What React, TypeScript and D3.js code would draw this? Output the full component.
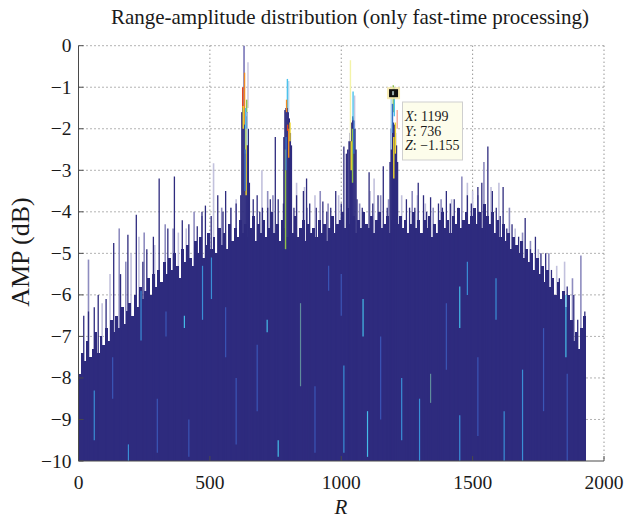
import React from 'react';
import * as d3 from 'd3';

// ---------- data ----------
const xTicks = [0, 500, 1000, 1500, 2000];
const yTicks = [0, -1, -2, -3, -4, -5, -6, -7, -8, -9, -10];
const titleText = 'Range-amplitude distribution (only fast-time processing)';

// dense dark columns, one every 10 range bins starting at R = 0
const COL_STEP = 10;
const columnTop = [
  -7.9, -7.4, -7.6, -7.1, -7.5, -7.3, -6.9, -7.4, -7.0, -7.2,
  -6.8, -7.1, -6.6, -6.9, -6.5, -6.8, -6.3, -6.7, -6.4, -6.2,
  -6.5, -6.0, -6.3, -5.8, -6.1, -5.9, -5.6, -6.0, -5.5, -5.8,
  -5.4, -5.7, -5.2, -5.5, -5.1, -5.4, -5.0, -5.3, -5.6, -4.9,
  -5.2, -4.8, -5.1, -5.3, -4.7, -5.0, -4.6, -5.1, -4.8, -4.5,
  -4.9, -4.6, -5.0, -4.4, -4.8, -4.5, -4.9, -4.3, -4.7, -4.4,
  -4.6, -4.2, -4.5, -4.3, -4.6, -4.4, -4.1, -4.7, -4.3, -4.5,
  -4.2, -4.6, -4.4, -4.0, -4.5, -4.3, -4.7, -4.2, -4.4, -4.6,
  -4.3, -4.5, -4.1, -4.6, -4.4, -4.2, -4.7, -4.3, -4.5, -4.4,
  -4.6, -4.2, -4.5, -4.3, -4.7, -4.4, -4.1, -4.5, -4.3, -4.2,
  -4.0, -4.4, -3.9, -4.3, -4.1, -4.5, -4.2, -4.4, -4.0, -4.3,
  -4.4, -4.1, -4.5, -4.2, -4.0, -4.4, -4.3, -4.1, -4.5, -4.2,
  -3.9, -4.3, -4.1, -4.4, -4.2, -4.5, -4.3, -4.0, -4.4, -4.2,
  -4.5, -4.2, -4.4, -4.1, -4.6, -4.3, -4.5, -4.2, -4.0, -4.4,
  -4.2, -4.5, -4.1, -4.3, -3.9, -4.4, -4.2, -4.0, -4.3, -4.1,
  -3.9, -4.3, -4.0, -4.4, -3.8, -4.1, -4.3, -4.0, -4.5, -4.2,
  -4.6, -4.3, -4.7, -4.5, -4.9, -4.6, -4.8, -5.0, -4.7, -5.1,
  -4.9, -5.2, -5.0, -5.4, -5.1, -5.5, -5.3, -5.7, -5.4, -5.8,
  -5.6, -6.0, -5.7, -6.1, -5.9, -6.3, -6.0, -6.6, -7.1, -6.9,
  -7.3, -6.8, -6.5,
];

// thin dark spikes
const spikeR = [20, 38, 60, 75, 105, 134, 160, 188, 220, 245, 260, 285, 307, 340, 365, 395, 420, 452, 483, 505,
  530, 560, 580, 600, 665, 680, 700, 720, 749, 760, 830, 856, 868, 880, 930, 960, 979, 1010, 1080, 1106,
  1140, 1160, 1248, 1280, 1293, 1313, 1340, 1370, 1400, 1430, 1480, 1520, 1535, 1558, 1575, 1590, 1616, 1650, 1700, 1739,
  1760, 1778, 1800, 1830, 1860, 1885, 1900, 1927,
  470, 550, 690, 730, 780, 820, 905, 945, 1000, 1060, 1120, 1175, 1260, 1325, 1385, 1415, 1445, 1495, 1545, 1605,
  1630, 1675, 1720, 1745];
const spikeTop = [-6.5, -6.4, -6.3, -6.0, -6.1, -4.75, -5.5, -4.55, -4.07, -5.2, -4.9, -4.6, -3.2, -4.4, -3.15, -4.2, -4.3, -4.35, -3.85, -4.1,
  -3.6, -3.5, -3.9, -3.8, -3.7, -3.6, -3.9, -3.9, -2.2, -3.7, -3.6, -3.5, -3.2, -3.8, -3.75, -3.9, -3.5, -2.43, -3.9, -3.05,
  -3.6, -2.9, -3.7, -3.9, -3.3, -3.6, -3.65, -3.8, -3.5, -3.7, -3.6, -3.4, -3.3, -2.43, -3.5, -3.9, -3.4, -4.3, -4.15, -4.6,
  -5.0, -5.0, -5.4, -5.6, -5.8, -6.0, -6.6, -6.4,
  -4.0, -4.0, -4.0, -3.7, -3.8, -3.9, -3.9, -4.0, -3.8, -3.7, -3.8, -3.9, -3.9, -4.0, -3.9, -3.8, -3.9, -3.8, -3.9, -4.1,
  -4.4, -4.6, -4.9, -5.2];

// pale (lavender) spikes
const paleR = [38, 90, 155, 200, 250, 290, 330, 380, 440, 514, 545, 580, 640, 698, 740, 830, 870, 900, 950, 990,
  1070, 1125, 1180, 1230, 1270, 1320, 1350, 1420, 1459, 1500, 1543, 1600, 1640, 1662, 1720, 1750, 1790, 1850, 1912,
  120, 180, 230, 360, 410, 470, 600, 720, 860, 920, 1110, 1150, 1290, 1380, 1480, 1520, 1570, 1690, 1820, 1880];
const paleTop = [-5.15, -6.2, -4.4, -5.0, -4.5, -4.8, -4.3, -4.5, -4.0, -2.83, -3.9, -3.9, -3.3, -3.0, -3.6, -3.3, -3.9, -3.6, -3.8, -3.6,
  -3.8, -3.2, -3.7, -3.6, -3.5, -3.8, -3.9, -3.7, -3.15, -3.5, -2.8, -3.3, -3.9, -4.4, -4.7, -4.9, -5.0, -5.2, -5.05,
  -5.5, -5.2, -4.6, -4.4, -4.4, -4.1, -3.7, -3.5, -3.4, -3.5, -3.5, -3.6, -3.6, -3.7, -3.3, -3.6, -3.4, -4.5, -5.3, -5.6];

// lighter streaks inside the dark mass (series index → colour in code)
const streakR = [238, 333, 403, 472, 506, 718, 760, 845, 952, 1010, 1083, 1298, 1340, 1451, 1451, 1589, 1690, 1855, 1860,
  60, 130, 190, 420, 600, 680, 900, 1150, 1230, 1400, 1520, 1620, 1770, 300, 560, 1100, 1480, 1000];
const streakTop = [-5.9, -6.4, -6.5, -5.3, -5.1, -6.6, -9.5, -6.2, -5.3, -7.7, -6.1, -8.5, -7.9, -5.8, -8.9, -5.6, -7.8, -6.0, -7.9,
  -8.3, -7.5, -9.6, -9.0, -8.0, -7.2, -8.2, -7.0, -8.0, -6.2, -7.5, -8.8, -6.8, -8.5, -6.3, -8.8, -5.2, -5.5];
const streakBottom = [-7.1, -7.0, -6.8, -6.6, -6.1, -6.9, -9.9, -8.2, -5.9, -9.8, -7.0, -10, -8.6, -6.8, -10, -6.6, -10, -7.5, -10,
  -9.5, -8.5, -10, -9.9, -9.6, -8.8, -9.8, -9.0, -9.5, -7.8, -9.4, -10, -8.8, -9.8, -7.5, -9.9, -6.0, -6.5];
const streakSeries = [1, 2, 0, 1, 1, 0, 0, 3, 2, 1, 0, 1, 3, 0, 1, 1, 1, 0, 2,
  1, 2, 1, 2, 2, 2, 2, 2, 1, 2, 2, 1, 2, 2, 2, 0, 1, 2];

// target peaks: dark cores
const peakColR = [618, 622, 626, 630, 634, 638, 642, 646, 650,
  782, 786, 790, 794, 798, 802, 806, 810,
  1020, 1025, 1030, 1035, 1040, 1044, 1048, 1052, 1056,
  1186, 1190, 1194, 1198, 1202, 1206, 1210, 1214];
const peakColTop = [-3.6, -1.6, -1.5, -1.55, -1.5, -1.7, -1.6, -2.0, -3.3,
  -2.2, -1.55, -1.5, -1.45, -1.5, -1.75, -2.1, -2.4,
  -2.6, -2.5, -2.3, -2.1, -1.85, -1.7, -1.75, -2.0, -2.5,
  -2.8, -2.0, -1.9, -1.85, -1.9, -2.1, -2.4, -2.8];

// target peaks: coloured slow-time traces
const peakLineR = [630, 645, 632, 625, 627, 640, 636, 638, 634, 642,
  795, 800, 792, 800, 805, 796, 788, 790,
  1035, 1045, 1051, 1043, 1038, 1048,
  1198, 1202, 1190, 1213, 1206, 1195, 1200];
const peakLineTop = [0.0, -0.4, -0.65, -1.0, -1.45, -1.3, -1.5, -2.0, -2.5, -1.6,
  -0.8, -0.85, -1.3, -2.0, -1.85, -1.9, -2.5, -2.2,
  -0.35, -1.1, -1.2, -2.0, -2.3, -1.8,
  -0.95, -1.0, -1.2, -1.55, -1.85, -1.4, -2.2];
const peakLineBottom = [-1.5, -1.5, -1.9, -1.5, -2.0, -1.6, -2.6, -3.6, -3.5, -2.4,
  -1.5, -1.6, -1.6, -2.7, -2.3, -2.05, -4.9, -3.0,
  -2.3, -1.8, -2.0, -3.3, -3.0, -2.6,
  -1.6, -1.7, -2.5, -2.0, -2.6, -2.1, -3.2];
const peakLineSeries = [0, 7, 1, 2, 3, 4, 5, 3, 10, 6,
  5, 6, 1, 1, 3, 2, 4, 10,
  8, 5, 7, 4, 3, 10,
  4, 5, 6, 9, 3, 10, 3];

// data tip
const tipX = 1199;
const tipY = 736;
const tipZ = -1.155;

// ---------- styling ----------
const NAVY = '#2e2b7e';
const streakColors = ['#45bde9', '#3a8fd6', '#3b56b6', '#5f8c9c'];
const peakColors = ['#6461ad', '#f08a24', '#e2451f', '#efd62c', '#8fc04a', '#4cc3ec',
  '#b5d8ef', '#c5c4e0', '#f3f3a8', '#f2a596', '#3970c8'];
const FONT = '"Liberation Serif", "Times New Roman", "DejaVu Serif", serif';

const fmtMinus = (v: number) => (v < 0 ? '\u2212' + String(-v) : String(v));

export default function App() {
  const x = d3.scaleLinear().domain([0, 2000]).range([78.5, 604]);
  const y = d3.scaleLinear().domain([-10, 0]).range([461, 45.7]);
  const x0 = x(0), x1 = x(2000), yb = y(-10), yt = y(0);
  const colW = x(COL_STEP) - x(0) + 0.35;
  const pkW = x(4) - x(0) + 0.5;

  return (
    <svg width={627} height={521} style={{ position: 'absolute', left: 0, top: 0, background: '#fff' }}
      fontFamily={FONT}>
      {/* grid */}
      <g stroke="#666" strokeWidth={1} strokeDasharray="1,3">
        {yTicks.filter(t => t !== -10).map(t => (
          <line key={'gy' + t} x1={x0} x2={x1} y1={y(t)} y2={y(t)} />
        ))}
        {xTicks.filter(t => t !== 0).map(t => (
          <line key={'gx' + t} x1={x(t)} x2={x(t)} y1={yt} y2={yb} />
        ))}
      </g>

      {/* pale spikes */}
      <g>
        {paleR.map((r, i) => (
          <line key={'p' + i} x1={x(r)} x2={x(r)} y1={y(paleTop[i])} y2={yb}
            stroke={i % 2 ? '#c2c1dd' : '#8e8cbf'} strokeWidth={1.6} />
        ))}
      </g>

      {/* dense columns */}
      <g fill={NAVY} shapeRendering="crispEdges">
        {columnTop.map((t, i) => (
          <rect key={'c' + i} x={x(i * COL_STEP)} width={colW} y={y(t)} height={yb - y(t)} />
        ))}
      </g>

      {/* dark spikes */}
      <g stroke={NAVY} strokeWidth={1.3}>
        {spikeR.map((r, i) => (
          <line key={'s' + i} x1={x(r)} x2={x(r)} y1={y(spikeTop[i])} y2={yb} />
        ))}
      </g>

      {/* streaks */}
      <g strokeWidth={1.2}>
        {streakR.map((r, i) => (
          <line key={'st' + i} x1={x(r)} x2={x(r)} y1={y(streakTop[i])} y2={y(streakBottom[i])}
            stroke={streakColors[streakSeries[i]]} />
        ))}
      </g>

      {/* peaks */}
      <g fill={NAVY}>
        {peakColR.map((r, i) => (
          <rect key={'pc' + i} x={x(r) - pkW / 2} width={pkW} y={y(peakColTop[i])} height={yb - y(peakColTop[i])} />
        ))}
      </g>
      <g strokeWidth={1.4}>
        {peakLineR.map((r, i) => (
          <line key={'pl' + i} x1={x(r)} x2={x(r)} y1={y(peakLineTop[i])} y2={y(peakLineBottom[i])}
            stroke={peakColors[peakLineSeries[i]]} />
        ))}
      </g>

      {/* axes */}
      <g stroke="#4a4a4a" strokeWidth={1} fill="none">
        <line x1={x0} x2={x0} y1={yt} y2={yb} />
        <line x1={x0} x2={x1} y1={yb} y2={yb} />
        {yTicks.map(t => (
          <line key={'ty' + t} x1={x0} x2={x0 + 5} y1={y(t)} y2={y(t)} />
        ))}
        {xTicks.map(t => (
          <line key={'tx' + t} x1={x(t)} x2={x(t)} y1={yb} y2={yb - 5} />
        ))}
      </g>

      {/* tick labels */}
      <g fontSize={19.5} fill="#1a1a1a">
        {yTicks.map(t => (
          <text key={'ly' + t} x={x0 - 7} y={y(t) + 6.5} textAnchor="end">{fmtMinus(t)}</text>
        ))}
        {xTicks.map(t => (
          <text key={'lx' + t} x={x(t)} y={489} textAnchor="middle">{t}</text>
        ))}
      </g>

      {/* titles */}
      <text x={350} y={24} textAnchor="middle" fontSize={21} fill="#1a1a1a">{titleText}</text>
      <text transform={`translate(29,252) rotate(-90)`} textAnchor="middle" fontSize={26} fill="#1a1a1a">AMP (dB)</text>
      <text x={341} y={514} textAnchor="middle" fontSize={21} fontStyle="italic" fill="#1a1a1a">R</text>

      {/* data tip marker */}
      <rect x={x(tipX) - 6.5} y={y(tipZ) - 6.5} width={13} height={12} fill="#f6e7a6" opacity={0.85} />
      <rect x={x(tipX) - 4.5} y={y(tipZ) - 4.5} width={9} height={8} fill="#111" />
      <rect x={x(tipX) - 1.5} y={y(tipZ) - 2.5} width={2} height={4} fill="#9aa" />

      {/* data tip box */}
      <g>
        <rect x={402.5} y={102} width={60} height={58} fill="#fdfdeb" stroke="#cfcfcf" strokeWidth={1} />
        <g fontSize={14} fill="#1a1a1a">
          <text x={405} y={121}><tspan fontStyle="italic">X</tspan>: {tipX}</text>
          <text x={405} y={135.5}><tspan fontStyle="italic">Y</tspan>: {tipY}</text>
          <text x={405} y={150}><tspan fontStyle="italic">Z</tspan>:  {fmtMinus(tipZ)}</text>
        </g>
      </g>
    </svg>
  );
}
